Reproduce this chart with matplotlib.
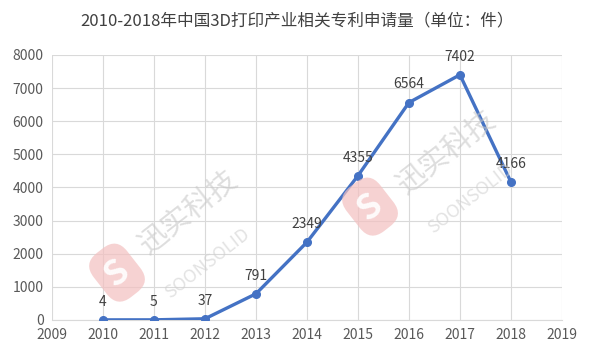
import matplotlib
matplotlib.use("Agg")
import matplotlib.pyplot as plt

plt.rcParams['font.family'] = ['Noto Sans CJK SC', 'DejaVu Sans']

years = [2010, 2011, 2012, 2013, 2014, 2015, 2016, 2017, 2018]
values = [4, 5, 37, 791, 2349, 4355, 6564, 7402, 4166]
title = "2010-2018年中国3D打印产业相关专利申请量（单位：件）"
xticks = list(range(2009, 2020))
yticks = list(range(0, 8001, 1000))

fig = plt.figure(figsize=(5.94, 3.55), dpi=100)
ax = fig.add_axes([0.0875, 0.0986, 0.8585, 0.7465])

ax.plot(years, values, color='#4472C4', lw=2.4, marker='o', ms=5.5, zorder=3)
for x, v in zip(years, values):
    ax.annotate(str(v), (x, v), xytext=(0, 8), textcoords='offset points',
                ha='center', va='bottom', fontsize=10, color='#404040', zorder=4)

ax.set_xlim(2009, 2019)
ax.set_ylim(0, 8000)
ax.set_xticks(xticks)
ax.set_yticks(yticks)
ax.tick_params(axis='both', length=0, labelsize=10, labelcolor='#595959', pad=6)
ax.grid(True, color='#D9D9D9', lw=0.8)
ax.set_axisbelow(True)
for s in ['top', 'right', 'left']:
    ax.spines[s].set_visible(False)
ax.spines['bottom'].set_color('#D9D9D9')

fig.text(0.5, 0.94, title, ha='center', va='center', fontsize=12, color='#404040')

# watermarks (logo, Chinese name, latin name) in figure fractions
marks = [((0.197, 0.232), (0.318, 0.40), (0.350, 0.258)),
         ((0.623, 0.418), (0.752, 0.568), (0.792, 0.440))]
for logo, cn, en in marks:
    fig.text(logo[0], logo[1], "S", rotation=38, ha='center', va='center',
             fontsize=25, color='white', fontweight='bold', alpha=0.9, zorder=1,
             bbox=dict(boxstyle='round,pad=0.3,rounding_size=0.5', fc='#F3C0C0',
                       ec='none', alpha=0.7))
    fig.text(cn[0], cn[1], "迅实科技", rotation=38, ha='center', va='center',
             fontsize=21, color='#C8C8C8', alpha=0.6, zorder=1)
    fig.text(en[0], en[1], "SOONSOLID", rotation=38, ha='center', va='center',
             fontsize=13, color='#D0D0D0', alpha=0.6, zorder=1)

fig.savefig("out.png", dpi=100)
